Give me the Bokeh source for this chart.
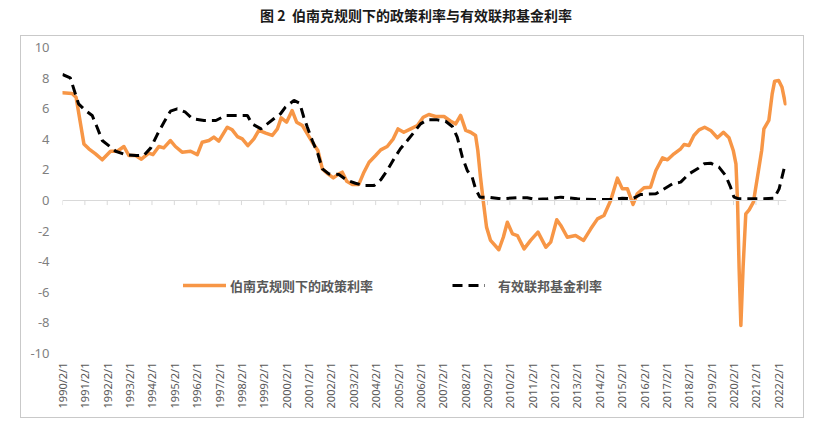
import math
from bokeh.plotting import figure
from bokeh.models import Range1d, FixedTicker, Span, Legend, LegendItem, Div, AllLabels
from bokeh.layouts import column
from bokeh.embed import file_html
from bokeh.resources import INLINE

# ---- data (decimal years, percent) ----
taylor_dates = [1990.08, 1990.51, 1990.69, 1991.04, 1991.26, 1991.56, 1991.86, 1992.23, 1992.53, 1992.83,
                1993.05, 1993.35, 1993.61, 1993.94, 1994.13, 1994.39, 1994.61, 1994.91, 1995.13, 1995.43,
                1995.81, 1996.11, 1996.33, 1996.63, 1996.85, 1997.07, 1997.45, 1997.67, 1997.90, 1998.12,
                1998.37, 1998.64, 1998.86, 1999.17, 1999.46, 1999.69, 1999.86, 2000.10, 2000.35, 2000.55,
                2000.81, 2001.03, 2001.25, 2001.50, 2001.70, 2001.95, 2002.19, 2002.44, 2002.59, 2002.79,
                2003.04, 2003.33, 2003.56, 2003.79, 2004.08, 2004.31, 2004.60, 2004.87, 2005.08, 2005.34,
                2005.65, 2005.95, 2006.21, 2006.46, 2006.76, 2007.14, 2007.44, 2007.66, 2007.88, 2008.11,
                2008.33, 2008.55, 2008.65, 2008.77, 2008.89, 2009.04, 2009.22, 2009.59, 2009.79, 2009.97,
                2010.20, 2010.42, 2010.72, 2011.01, 2011.34, 2011.69, 2011.91, 2012.18, 2012.36, 2012.65,
                2013.02, 2013.38, 2013.70, 2014.00, 2014.29, 2014.59, 2014.89, 2015.11, 2015.34, 2015.59,
                2015.78, 2016.08, 2016.37, 2016.61, 2016.91, 2017.13, 2017.42, 2017.72, 2017.87, 2018.09,
                2018.31, 2018.54, 2018.79, 2019.06, 2019.36, 2019.63, 2019.88, 2020.07, 2020.19, 2020.26,
                2020.33, 2020.41, 2020.51, 2020.63, 2020.78, 2020.97, 2021.15, 2021.34, 2021.44, 2021.66,
                2021.81, 2021.92, 2022.10, 2022.25, 2022.40]
taylor_rate = [7.04, 7.00, 6.75, 3.70, 3.38, 3.05, 2.66, 3.22, 3.22, 3.53,
               2.94, 2.94, 2.70, 3.10, 3.00, 3.53, 3.44, 3.92, 3.53, 3.16,
               3.22, 3.00, 3.81, 3.92, 4.14, 3.88, 4.79, 4.62, 4.18, 4.03,
               3.59, 4.03, 4.58, 4.40, 4.25, 4.68, 5.40, 5.12, 5.88, 5.12,
               4.90, 4.36, 3.81, 3.27, 2.07, 1.74, 1.48, 1.74, 1.85, 1.26,
               1.05, 1.05, 1.85, 2.50, 2.94, 3.31, 3.53, 4.03, 4.68, 4.46,
               4.68, 4.90, 5.44, 5.62, 5.49, 5.49, 5.18, 5.01, 5.56, 4.58,
               4.46, 4.25, 3.27, 1.52, 0.00, -1.74, -2.61, -3.22, -2.40, -1.42,
               -2.18, -2.29, -3.16, -2.61, -2.07, -3.05, -2.72, -1.26, -1.63, -2.40,
               -2.29, -2.61, -1.85, -1.20, -0.98, 0.00, 1.46, 0.76, 0.76, -0.26,
               0.44, 0.83, 0.87, 1.96, 2.79, 2.66, 3.05, 3.38, 3.66, 3.59,
               4.25, 4.62, 4.79, 4.58, 4.10, 4.46, 4.10, 3.27, 2.40, 0.00,
               -4.36, -8.17, -4.36, -0.87, -0.61, -0.11, 1.52, 3.27, 4.68, 5.23,
               6.97, 7.80, 7.84, 7.40, 6.32]

ffr_dates = [1990.08, 1990.43, 1990.80, 1991.11, 1991.41, 1991.63, 1991.86, 1992.15, 1992.46, 1992.90,
             1993.35, 1993.72, 1994.03, 1994.32, 1994.62, 1994.91, 1995.21, 1995.58, 1995.89, 1996.41,
             1996.94, 1997.38, 1997.82, 1998.35, 1998.55, 1998.96, 1999.24, 1999.53, 1999.83, 2000.05,
             2000.43, 2000.69, 2000.87, 2001.03, 2001.25, 2001.50, 2001.70, 2001.99, 2002.44, 2002.81,
             2003.18, 2003.56, 2004.01, 2004.31, 2004.60, 2004.90, 2005.19, 2005.50, 2005.80, 2006.09,
             2006.39, 2006.84, 2007.21, 2007.51, 2007.73, 2007.96, 2008.18, 2008.40, 2008.55, 2008.74,
             2009.08, 2009.67, 2010.42, 2010.86, 2011.23, 2011.76, 2012.36, 2013.10, 2013.85, 2014.73,
             2015.11, 2015.56, 2015.93, 2016.61, 2016.91, 2017.35, 2017.72, 2018.09, 2018.47, 2018.77,
             2019.06, 2019.43, 2019.73, 2019.95, 2020.10, 2020.33, 2020.85, 2021.44, 2021.90, 2022.12,
             2022.34, 2022.40]
ffr_rate = [8.24, 8.02, 6.32, 5.88, 5.56, 4.79, 3.92, 3.59, 3.22, 3.00,
            2.94, 2.94, 3.44, 4.31, 5.12, 5.84, 5.99, 5.77, 5.34, 5.23,
            5.23, 5.56, 5.56, 5.56, 5.01, 4.68, 5.01, 5.34, 5.67, 6.10,
            6.54, 6.36, 5.44, 4.79, 3.92, 3.05, 2.07, 1.74, 1.70, 1.31,
            1.13, 0.98, 0.98, 1.35, 1.96, 2.72, 3.38, 3.92, 4.46, 5.01,
            5.27, 5.27, 5.18, 4.84, 4.14, 2.83, 1.96, 1.52, 0.76, 0.22,
            0.22, 0.11, 0.18, 0.18, 0.07, 0.11, 0.22, 0.11, 0.07, 0.07,
            0.15, 0.11, 0.39, 0.44, 0.70, 1.09, 1.20, 1.74, 2.07, 2.40,
            2.44, 2.18, 1.63, 0.87, 0.22, 0.11, 0.11, 0.11, 0.15, 0.76,
            2.07, 2.16]

tick_years = list(range(1990, 2023))
tick_labels = [f"{y}/2/1" for y in tick_years]
y_ticks = list(range(-10, 11, 2))
series_names = ["伯南克规则下的政策利率", "有效联邦基金利率"]
title_text = "图 2&nbsp;&nbsp;伯南克规则下的政策利率与有效联邦基金利率"


def to_month(t):
    return (t - 1990) * 12


tick_pos = [(y - 1990) * 12 + 1 for y in tick_years]

p = figure(width=806, height=385, output_backend="svg", toolbar_location=None,
           x_range=Range1d(1.0, 389.4), y_range=Range1d(-10, 10),
           min_border_left=62, min_border_right=20, min_border_top=12, min_border_bottom=67)
p.margin = 0
p.outline_line_color = None
p.border_fill_alpha = 0
p.background_fill_alpha = 0
p.xgrid.visible = False
p.ygrid.visible = False

# y axis
p.yaxis.ticker = FixedTicker(ticks=y_ticks)
p.yaxis.major_label_overrides = {v: str(v) for v in y_ticks}
p.yaxis.axis_line_color = None
p.yaxis.major_tick_line_color = None
p.yaxis.minor_tick_line_color = None
p.yaxis.major_tick_in = 0
p.yaxis.major_tick_out = 0
p.yaxis.major_label_standoff = 13
p.yaxis.major_label_text_font = "Noto Sans"
p.yaxis.major_label_text_font_size = "13px"
p.yaxis.major_label_text_color = "#7f7f7f"

# x axis
p.xaxis.ticker = FixedTicker(ticks=tick_pos)
p.xaxis.major_label_overrides = dict(zip(tick_pos, tick_labels))
p.xaxis.major_label_policy = AllLabels()
p.xaxis.major_label_orientation = math.pi / 2
p.xaxis.axis_line_color = None
p.xaxis.major_tick_line_color = None
p.xaxis.minor_tick_line_color = None
p.xaxis.major_tick_in = 0
p.xaxis.major_tick_out = 0
p.xaxis.major_label_standoff = 9
p.xaxis.major_label_text_font = "'Liberation Sans Narrow', 'Noto Sans'"
p.xaxis.major_label_text_font_size = "11px"
p.xaxis.major_label_text_color = "#595959"

# zero line with ticks
p.add_layout(Span(location=0, dimension="width", line_color="#d9d9d9", line_width=1))
p.segment(x0=tick_pos, y0=[0] * len(tick_pos), x1=tick_pos, y1=[-0.3] * len(tick_pos),
          line_color="#d9d9d9", line_width=1)

r1 = p.line([to_month(t) for t in taylor_dates], taylor_rate, line_color="#F79646",
            line_width=3.5, line_join="round", line_cap="round")
r2 = p.line([to_month(t) for t in ffr_dates], ffr_rate, line_color="black",
            line_width=3, line_dash="10 6")

common = dict(orientation="horizontal", glyph_height=20, label_height=20, padding=0, margin=0,
              border_line_color=None, background_fill_alpha=0,
              label_text_font="Noto Sans CJK SC", label_text_font_size="13px",
              label_text_font_style="bold", label_text_color="#595959")
leg1 = Legend(items=[LegendItem(label=series_names[0], renderers=[r1])], location=(121, 58),
              glyph_width=43, label_standoff=4, **common)
leg2 = Legend(items=[LegendItem(label=series_names[1], renderers=[r2])], location=(390, 58),
              glyph_width=33, label_standoff=13, **common)
p.add_layout(leg1)
p.add_layout(leg2)

title_html = (
    '<div style="position:relative;width:832px;height:35px;">'
    '<div style="position:absolute;left:0;top:7px;width:832px;text-align:center;'
    'font-family:\'Noto Sans CJK SC\';font-weight:bold;font-size:14px;line-height:16px;'
    f'color:#1a1a1a">{title_text}</div>'
    '<div style="position:absolute;left:20px;top:35px;width:784px;height:383px;'
    'border:1px solid #c9c9c9;pointer-events:none;z-index:5"></div>'
    '</div>'
)
title = Div(text=title_html, width=832, height=35, margin=0, styles={"overflow": "visible"})

layout = column(title, p)
open("out.html", "w").write(file_html(layout, INLINE))
